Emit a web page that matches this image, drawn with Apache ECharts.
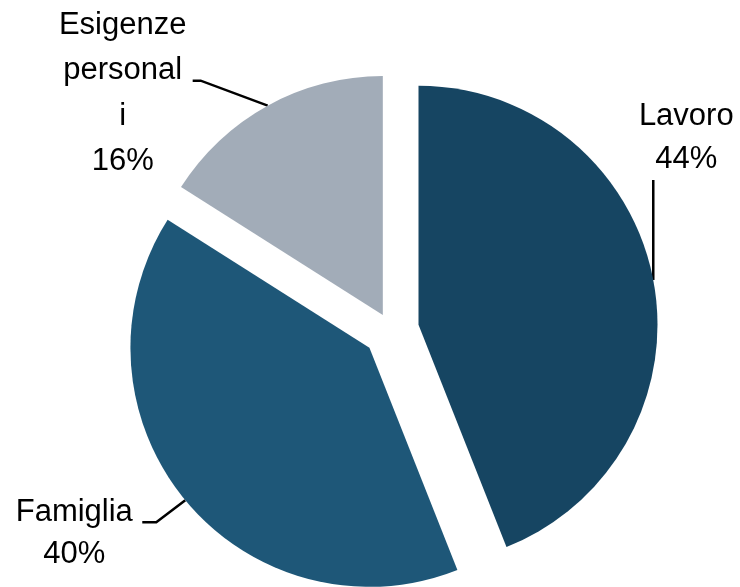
<!DOCTYPE html>
<html><head><meta charset="utf-8">
<script src="https://cdn.jsdelivr.net/npm/echarts@6/dist/echarts.min.js"></script>
<style>html,body{margin:0;padding:0;background:#fff}#c{width:740px;height:587px}</style>
</head><body><div id="c"></div>
<script>
const categories = ['Lavoro', 'Famiglia', 'Esigenze personali'];
const values = [44, 40, 16];
const labelTexts = ['Lavoro', 'Famiglia', 'Esigenze\npersonal\ni'];
const colors = ['#164562', '#1E5778', '#A2ACB8'];
const explode = [28, 28, 17];

const baseCenter = [391, 330];
const radius = 239;
const total = values.reduce((a, b) => a + b, 0);

let acc = 0;
const mids = values.map(v => { const m = (acc + v / 2) / total * 2 * Math.PI; acc += v; return m; });
const dirs = mids.map(a => [Math.sin(a), -Math.cos(a)]);
const centers = dirs.map((d, i) => [baseCenter[0] + explode[i] * d[0], baseCenter[1] + explode[i] * d[1]]);
const edges = centers.map((c, i) => [c[0] + radius * dirs[i][0], c[1] + radius * dirs[i][1]]);

const labelOffsets = [[33, -142], [-111, 33], [-145, -12]];
const leaderPaths = [
  [[0, 0], [0, -100], [0, -100]],
  [[0, 0], [-29, 22], [-43, 22]],
  [[0, 0], [-67, -25], [-75, -25]]
];
const lineHeights = [43, 42, 45.5];

const series = values.map((_, si) => ({
  type: 'pie',
  center: centers[si],
  radius: radius,
  startAngle: 90,
  clockwise: true,
  avoidLabelOverlap: false,
  silent: true,
  animation: false,
  emphasis: { disabled: true },
  labelLine: { show: true, lineStyle: { color: '#000', width: 2.5 } },
  label: { show: true, position: 'outside' },
  data: categories.map((name, i) => ({
    name: name,
    value: values[i],
    itemStyle: { color: i === si ? colors[i] : 'rgba(0,0,0,0)', borderWidth: 0 },
    label: {
      show: i === si,
      formatter: labelTexts[i] + '\n' + values[i] + '%',
      fontSize: 31,
      lineHeight: lineHeights[i],
      color: '#000',
      fontFamily: 'Liberation Sans',
      align: 'center'
    },
    labelLine: { show: i === si }
  })),
  labelLayout: function (p) {
    const i = p.dataIndex;
    const e = edges[i];
    return {
      x: e[0] + labelOffsets[i][0],
      y: e[1] + labelOffsets[i][1],
      align: 'center',
      verticalAlign: 'middle',
      labelLinePoints: leaderPaths[i].map(q => [e[0] + q[0], e[1] + q[1]])
    };
  }
}));

const chart = echarts.init(document.getElementById('c'), null, { renderer: 'canvas' });
chart.setOption({ backgroundColor: '#fff', animation: false, series: series });
</script>
</body></html>
